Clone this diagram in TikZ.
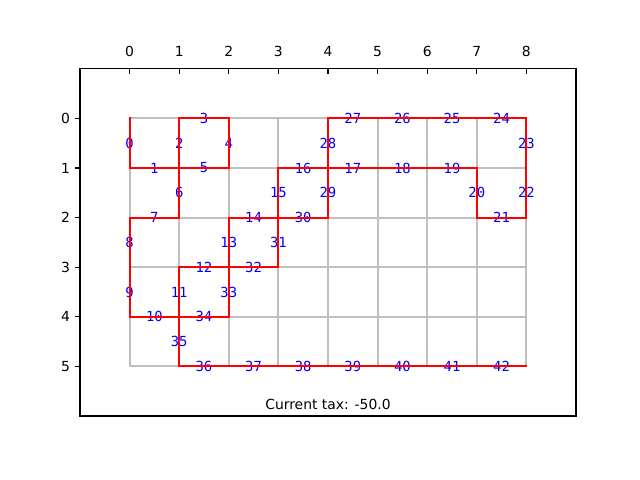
\documentclass[tikz,border=0pt]{standalone}
\usepackage{fontspec}
\setmainfont{DejaVu Sans}
\newfontfamily\labelmono{DejaVu Sans Mono}
\definecolor{gridgray}{RGB}{191,191,191}
\begin{document}
\begin{tikzpicture}[x=35.712pt,y=-35.712pt,
  gridline/.style={gridgray,line width=1.5pt,line cap=rect},
  chosen/.style={red,line width=1.5pt,line cap=rect},
  edgelabel/.style={text=blue,inner sep=0pt,font=\labelmono\fontsize{10}{12}\selectfont},
  ticklabel/.style={inner sep=0pt,font=\fontsize{10}{12}\selectfont},
  frame/.style={black,line width=0.8pt},
  tickmark/.style={black,line width=0.8pt}]
\useasboundingbox (-2.6129,-2.3871) rectangle (10.2903,7.2903);
\fill[white] (-2.6129,-2.3871) rectangle (10.2903,7.2903);
% grid
\foreach \y in {0,...,5} \draw[gridline] (0,\y) -- (8,\y);
\foreach \x in {0,...,8} \draw[gridline] (\x,0) -- (\x,5);
% chosen edges
\def\edgelist{0/0/0/0/1, 1/0/1/1/1, 2/1/0/1/1, 3/1/0/2/0, 4/2/0/2/1, 5/1/1/2/1,
  6/1/1/1/2, 7/0/2/1/2, 8/0/2/0/3, 9/0/3/0/4, 10/0/4/1/4, 11/1/3/1/4,
  12/1/3/2/3, 13/2/2/2/3, 14/2/2/3/2, 15/3/1/3/2, 16/3/1/4/1, 17/4/1/5/1,
  18/5/1/6/1, 19/6/1/7/1, 20/7/1/7/2, 21/7/2/8/2, 22/8/1/8/2, 23/8/0/8/1,
  24/7/0/8/0, 25/6/0/7/0, 26/5/0/6/0, 27/4/0/5/0, 28/4/0/4/1, 29/4/1/4/2,
  30/3/2/4/2, 31/3/2/3/3, 32/2/3/3/3, 33/2/3/2/4, 34/1/4/2/4, 35/1/4/1/5,
  36/1/5/2/5, 37/2/5/3/5, 38/3/5/4/5, 39/4/5/5/5, 40/5/5/6/5, 41/6/5/7/5,
  42/7/5/8/5}
\foreach \n/\ax/\ay/\bx/\by in \edgelist
  \node[edgelabel] (e\n) at ({(\ax+\bx)/2},{(\ay+\by)/2}) {\n};
\foreach \n/\ax/\ay/\bx/\by in \edgelist
  \draw[chosen] (\ax,\ay) -- (\bx,\by);
% frame
\draw[frame] (-1,-1) rectangle (9,6);
% ticks
\foreach \x in {0,...,8} {
  \draw[tickmark] (\x,-1) -- ++(0,-3.5pt);
  \node[ticklabel,anchor=base] (tx\x) at ([yshift=9.2pt]\x,-1) {\x};
}
\foreach \y in {0,...,5} {
  \draw[tickmark] (-1,\y) -- ++(-3.5pt,0);
  \node[ticklabel,anchor=east] (ty\y) at ([xshift=-7pt]-1,\y) {\y};
}
\node[ticklabel,anchor=base] (tax) at (4,5.859) {Current tax: -50.0};
\end{tikzpicture}
\end{document}
